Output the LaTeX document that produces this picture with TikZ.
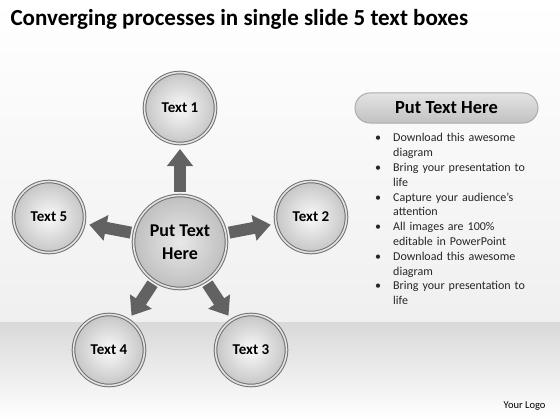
\documentclass[tikz,border=0pt]{standalone}
\usepackage{fontspec}
\setmainfont{Carlito}
\usetikzlibrary{arrows.meta,positioning,shadows}
\definecolor{ringgray}{RGB}{112,112,112}
\definecolor{arrowgray}{RGB}{98,98,98}

\begin{document}
\begin{tikzpicture}[x=1pt,y=-1pt]
	\begin{scope}

\tikzset{
sat/.style={circle,minimum size=71pt,inner sep=0pt,draw=ringgray,double=gray!22,double distance=1.6pt,line width=1pt,inner color=gray!4,outer color=gray!45,font=\bfseries\fontsize{15}{17}\selectfont},
hub/.style={sat,minimum size=93pt,inner color=gray!18,outer color=gray!50,align=center,font=\bfseries\fontsize{18}{23}\selectfont},
flow/.style={arrowgray,line width=12pt,-{Triangle[width=25pt,length=17pt]},shorten <=3pt,shorten >=5pt},
pill/.style={draw=gray!65,line width=1pt,rounded corners=15pt,minimum width=183pt,minimum height=30pt,top color=gray!22,bottom color=gray!48,font=\bfseries\fontsize{18.5}{20}\selectfont}
}

\useasboundingbox (0,0) rectangle (560,420);

% backdrop
\shade[top color=white,bottom color=gray!12] (0,0) rectangle (560,322);
\shade[top color=gray!30,bottom color=white] (0,322) rectangle (560,420);

\node[anchor=base west,font=\bfseries\fontsize{23}{26}\selectfont] (title) at (7,26) {Converging processes in single slide 5 text boxes};

% the hub and its five boxes
\node[hub] (hub) at (180,242) {Put Text\\Here};

\foreach \n/\x/\y in {1/180/108,2/311/217,3/251/350,4/109/350,5/49/217}
{
\node[sat] (t\n) at (\x,\y) {Text \n};
}

\foreach \n in {1,...,5}
{
\draw[flow] (hub) -- (t\n);
}

% text panel
\node[pill] (head) at (446.5,108) {Put Text Here};

\node[anchor=north west,text width=170pt,inner sep=0pt,text=black!85,font=\fontsize{12}{14.8}\selectfont] (list) at (376,119) {%
\setlength{\leftmargini}{17pt}\setlength{\labelsep}{12pt}%
\setlength{\topsep}{0pt}\setlength{\partopsep}{0pt}%
\begin{itemize}\setlength{\itemsep}{0pt}\setlength{\parsep}{0pt}\setlength{\parskip}{0pt}
\item Download this awesome\newline diagram
\item Bring your presentation to\newline life
\item Capture your audience’s\newline attention
\item All images are 100\%\newline editable in PowerPoint
\item Download this awesome\newline diagram
\item Bring your presentation to\newline life
\end{itemize}};

\node[anchor=base east,font=\fontsize{10.5}{13}\selectfont] (logo) at (549,408) {Your Logo};

	\end{scope}
\end{tikzpicture}
\end{document}
